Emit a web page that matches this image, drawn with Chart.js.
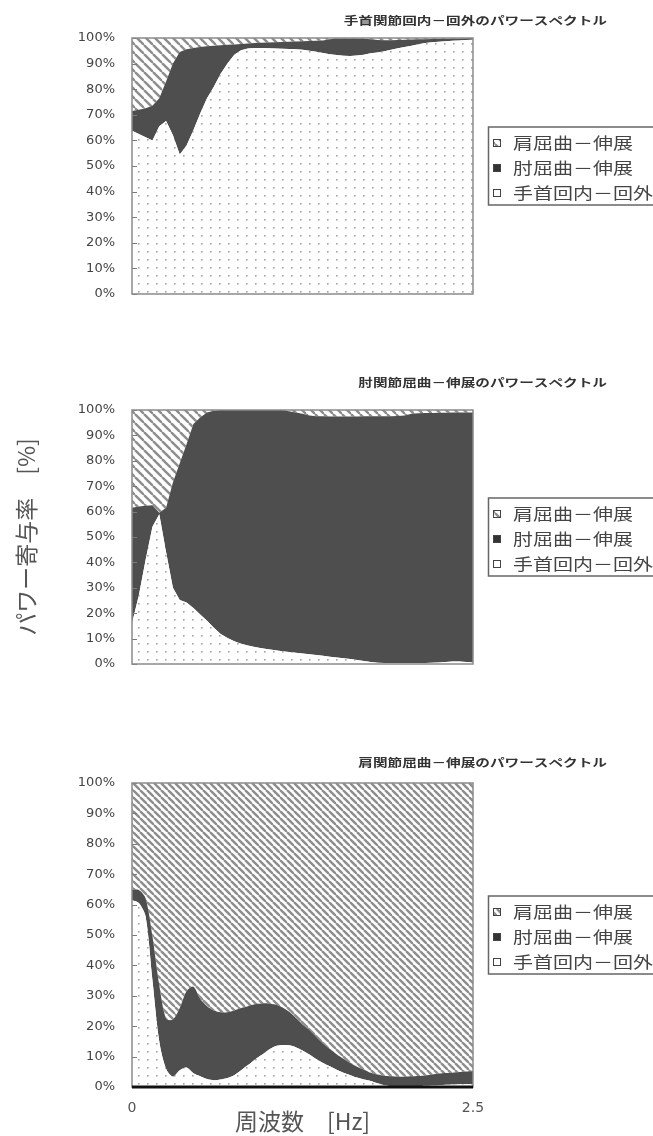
<!DOCTYPE html>
<html>
<head>
<meta charset="utf-8">
<script src="https://cdn.jsdelivr.net/npm/chart.js@4.4.1/dist/chart.umd.min.js"></script>
<style>
  html, body { margin: 0; padding: 0; background: #fff; }
  #wrap { position: relative; width: 653px; height: 1136px; overflow: hidden; }
  canvas { position: absolute; left: 0; }
</style>
</head>
<body>
<div id="wrap">
  <canvas id="c1" width="653" height="360" style="top:0px"></canvas>
  <canvas id="c2" width="653" height="360" style="top:360px"></canvas>
  <canvas id="c3" width="653" height="416" style="top:720px"></canvas>
</div>
<script>
// Frequency bins [Hz]
const freqHz = [0.00,0.05,0.10,0.15,0.20,0.25,0.30,0.35,0.40,0.45,
                0.50,0.55,0.60,0.65,0.70,0.75,0.80,0.85,0.90,0.95,
                1.00,1.05,1.10,1.15,1.20,1.25,1.30,1.35,1.40,1.45,
                1.50,1.55,1.60,1.65,1.70,1.75,1.80,1.85,1.90,1.95,
                2.00,2.05,2.10,2.15,2.20,2.25,2.30,2.35,2.40,2.45,
                2.50];

// Series names (legend order: top to bottom)
const seriesNames = ['肩屈曲－伸展', '肘屈曲－伸展', '手首回内－回外'];

const panelTitles = ['手首関節回内－回外のパワースペクトル',
                     '肘関節屈曲－伸展のパワースペクトル',
                     '肩関節屈曲－伸展のパワースペクトル'];

const yTickValues = [0,10,20,30,40,50,60,70,80,90,100];
const xTickLabels = ['0', '2.5'];

// Panel 1: wrist pronation-supination spectrum, contribution [%]
const wrist1 = [63.8,62.5,61.2,60.0,65.5,67.6,62.0,54.5,58.0,64.0,
                70.5,76.5,81.0,86.0,90.0,93.5,95.2,95.9,96.1,96.1,
                96.0,95.9,95.8,95.7,95.6,95.4,95.0,94.6,94.1,93.7,
                93.4,93.1,93.0,93.2,93.5,94.0,94.3,94.8,95.4,96.0,
                96.5,97.0,97.6,98.0,98.3,98.5,98.7,98.9,99.0,99.2,
                99.3];
const elbow1 = [7.7,9.5,11.4,13.5,11.0,15.4,28.0,40.0,37.6,32.1,
                26.0,20.3,16.0,11.2,7.4,4.0,2.5,2.0,1.9,2.0,
                2.2,2.4,2.6,2.8,3.0,3.3,3.8,4.3,4.9,5.8,
                6.4,6.7,6.8,6.6,6.2,5.5,4.9,4.3,3.7,3.2,
                2.8,2.4,1.9,1.5,1.3,1.2,1.0,0.9,0.8,0.7,
                0.7];
const shoulder1 = [28.5,28.0,27.4,26.5,23.5,17.0,10.0,5.5,4.4,3.9,
                   3.5,3.2,3.0,2.8,2.6,2.5,2.3,2.1,2.0,1.9,
                   1.8,1.7,1.6,1.5,1.4,1.3,1.2,1.1,1.0,0.5,
                   0.2,0.2,0.2,0.2,0.3,0.5,0.8,0.9,0.9,0.8,
                   0.7,0.6,0.5,0.5,0.4,0.3,0.3,0.2,0.2,0.1,
                   0.0];

// Panel 2: elbow flexion-extension spectrum
const wrist2 = [16.0,27.0,41.0,54.0,59.0,44.0,30.0,25.2,24.2,22.0,
                19.5,17.0,14.3,11.8,10.2,9.0,8.0,7.3,6.7,6.2,
                5.8,5.4,5.0,4.7,4.4,4.1,3.8,3.5,3.2,2.9,
                2.6,2.3,2.0,1.6,1.2,0.8,0.5,0.4,0.4,0.4,
                0.4,0.4,0.4,0.4,0.5,0.6,0.8,1.0,1.0,0.8,
                0.6];
const elbow2 = [45.5,35.0,21.3,8.5,0.5,17.5,41.5,53.8,62.3,72.5,
                77.5,82.0,85.4,88.2,89.8,91.0,92.0,92.7,93.3,93.8,
                94.2,94.6,95.0,94.8,94.6,94.4,94.0,94.0,94.3,94.5,
                94.8,95.1,95.4,95.8,96.3,96.7,97.0,97.1,97.1,97.2,
                97.4,98.1,98.3,98.4,98.3,98.3,98.1,98.0,98.0,98.2,
                98.4];
const shoulder2 = [38.5,38.0,37.7,37.5,40.5,38.5,28.5,21.0,13.5,5.5,
                   3.0,1.0,0.3,0.0,0.0,0.0,0.0,0.0,0.0,0.0,
                   0.0,0.0,0.0,0.5,1.0,1.5,2.2,2.5,2.5,2.6,
                   2.6,2.6,2.6,2.6,2.5,2.5,2.5,2.5,2.5,2.4,
                   2.2,1.5,1.3,1.2,1.2,1.1,1.1,1.0,1.0,1.0,
                   1.0];

// Panel 3: shoulder flexion-extension spectrum
const wrist3 = [61.5,60.5,56.0,35.0,15.0,6.0,3.4,5.5,6.4,4.5,
                3.5,2.6,2.2,2.5,3.0,3.9,5.5,7.2,9.0,10.5,
                12.2,13.4,13.8,13.7,13.1,12.0,10.7,9.2,7.9,6.8,
                5.7,4.7,3.9,3.1,2.5,2.0,1.2,0.6,0.3,0.3,
                0.3,0.3,0.3,0.4,0.5,0.6,0.7,0.8,0.9,1.0,
                1.0];
const elbow3 = [3.5,4.3,6.0,14.5,18.5,16.5,18.8,20.5,25.1,28.5,
                25.5,24.0,23.0,22.1,21.6,21.3,20.5,19.4,18.2,17.0,
                15.3,13.7,12.4,11.1,9.7,8.6,8.1,7.3,6.4,5.7,
                5.1,4.6,4.0,3.6,3.2,2.7,2.9,3.1,3.2,3.1,
                3.1,3.2,3.3,3.4,3.6,3.8,3.9,3.9,4.0,4.1,
                4.3];
const shoulder3 = [35.0,35.2,38.0,50.5,66.5,77.5,77.8,74.0,68.5,67.0,
                   71.0,73.4,74.8,75.4,75.4,74.8,74.0,73.4,72.8,72.5,
                   72.5,72.9,73.8,75.2,77.2,79.4,81.2,83.5,85.7,87.5,
                   89.2,90.7,92.1,93.3,94.3,95.3,95.9,96.3,96.5,96.6,
                   96.6,96.5,96.4,96.2,95.9,95.6,95.4,95.3,95.1,94.9,
                   94.7];

const CJK = '"Noto Sans CJK JP", "Noto Sans", sans-serif';
Chart.defaults.font.family = CJK;
const DARK = '#4e4e4e';

// Fill patterns
function hatchPattern(ctx, period, lw, color) {
  const c = document.createElement('canvas');
  c.width = period; c.height = period;
  const g = c.getContext('2d');
  g.fillStyle = '#fff'; g.fillRect(0, 0, period, period);
  g.strokeStyle = color; g.lineWidth = lw;
  for (const k of [-1, 0, 1]) {
    g.beginPath();
    g.moveTo(k * period, 0);
    g.lineTo(k * period + period, period);
    g.stroke();
  }
  return ctx.createPattern(c, 'repeat');
}
function dotPattern(ctx) {
  const c = document.createElement('canvas');
  c.width = 9; c.height = 8;
  const g = c.getContext('2d');
  g.fillStyle = '#fff'; g.fillRect(0, 0, 9, 8);
  g.fillStyle = '#a4a4a4';
  g.fillRect(3, 3, 1.6, 1.6);
  return ctx.createPattern(c, 'repeat');
}

function stretchedText(ctx, text, x, y, sx, align) {
  ctx.save();
  ctx.translate(x, y);
  ctx.scale(sx, 1);
  ctx.textAlign = align;
  ctx.fillText(text, 0, 0);
  ctx.restore();
}

// Frame, inside ticks, title and boxed legend for each panel
const panelDecor = {
  id: 'panelDecor',
  afterDatasetsDraw(chart, args, o) {
    const { ctx, chartArea: a } = chart;
    const ys = chart.scales.y;
    ctx.save();
    ctx.strokeStyle = '#7a7a7a';
    ctx.lineWidth = 1;
    ys.ticks.forEach(t => {
      const py = Math.round(ys.getPixelForValue(t.value)) + 0.5;
      ctx.beginPath(); ctx.moveTo(a.left, py); ctx.lineTo(a.left + 5, py); ctx.stroke();
    });
    ctx.strokeStyle = '#8a8a8a';
    ctx.lineWidth = 1.5;
    ctx.strokeRect(a.left, a.top, a.right - a.left, a.bottom - a.top);
    if (o.baseLine) {
      ctx.strokeStyle = '#111';
      ctx.lineWidth = 3;
      ctx.beginPath(); ctx.moveTo(a.left, a.bottom); ctx.lineTo(a.right, a.bottom); ctx.stroke();
    }
    ctx.restore();
  },
  afterDraw(chart, args, o) {
    const { ctx, chartArea: a } = chart;
    ctx.save();
    // title
    ctx.fillStyle = '#333';
    ctx.font = 'bold 11px ' + CJK;
    ctx.textBaseline = 'middle';
    stretchedText(ctx, o.title, 607, o.titleY, 1.33, 'right');
    // legend box
    const boxTop = (a.top + a.bottom) / 2 - 39;
    ctx.strokeStyle = '#666';
    ctx.lineWidth = 1.5;
    ctx.strokeRect(488.5, boxTop, 200, 78);
    const marks = [o.hatch, '#333', '#fff'];
    ctx.font = '16px ' + CJK;
    seriesNames.forEach((name, i) => {
      const ry = boxTop + 16 + i * 25;
      ctx.fillStyle = marks[i];
      ctx.fillRect(493, ry - 4, 8, 8);
      ctx.strokeStyle = '#444';
      ctx.lineWidth = 1;
      ctx.strokeRect(493.5, ry - 3.5, 7, 7);
      ctx.fillStyle = '#444';
      stretchedText(ctx, name, 513, ry, 1.25, 'left');
    });
    ctx.restore();
  }
};

function buildPanel(id, wrist, elbow, shoulder, cfg) {
  const canvas = document.getElementById(id);
  const ctx = canvas.getContext('2d');
  const hatch = hatchPattern(ctx, cfg.hatchPeriod, 2.4, '#8d8d8d');
  const dots = dotPattern(ctx);
  const toPts = arr => arr.map((v, i) => ({ x: freqHz[i], y: v }));
  const common = { pointRadius: 0, borderWidth: 0, tension: cfg.tension };
  return new Chart(ctx, {
    type: 'line',
    data: {
      datasets: [
        { label: seriesNames[2], data: toPts(wrist), backgroundColor: dots, fill: 'origin', ...common },
        { label: seriesNames[1], data: toPts(elbow), backgroundColor: DARK, fill: '-1', ...common },
        { label: seriesNames[0], data: toPts(shoulder), backgroundColor: hatch, fill: '-1', ...common }
      ]
    },
    options: {
      responsive: false,
      animation: false,
      events: [],
      layout: { padding: cfg.padding },
      plugins: {
        legend: { display: false },
        tooltip: { enabled: false },
        panelDecor: { title: cfg.title, titleY: cfg.titleY, hatch: hatch, baseLine: cfg.showX }
      },
      scales: {
        x: {
          type: 'linear', min: 0, max: 2.5,
          display: cfg.showX,
          grid: { display: false, drawTicks: false },
          border: { display: false },
          ticks: {
            stepSize: 2.5, padding: 13, color: '#555',
            font: { family: '"DejaVu Sans", sans-serif', size: 14 },
            callback: (v, i) => xTickLabels[i]
          },
          title: {
            display: cfg.showX, text: '周波数　[Hz]', color: '#555',
            font: { size: 23 }, padding: { top: 0, bottom: 1 }
          },
          afterFit: s => { s.height = 49; }
        },
        y: {
          stacked: true, min: 0, max: 100,
          grid: { display: false, drawTicks: false },
          border: { display: false },
          afterBuildTicks: s => { s.ticks = yTickValues.map(v => ({ value: v })); },
          ticks: {
            padding: 17, color: '#444',
            font: { family: '"DejaVu Sans", sans-serif', size: 13 },
            callback: v => v + '%'
          },
          title: {
            display: cfg.showYTitle, text: 'パワー寄与率　[%]', color: '#555',
            font: { size: 23 }, padding: { top: 12, bottom: 0 }
          },
          afterFit: s => { s.width = 132; }
        }
      }
    },
    plugins: [panelDecor]
  });
}

buildPanel('c1', wrist1, elbow1, shoulder1, {
  title: panelTitles[0], titleY: 21, hatchPeriod: 9, tension: 0,
  padding: { left: 0, right: 180, top: 38, bottom: 17 }, showX: false, showYTitle: false
});
buildPanel('c2', wrist2, elbow2, shoulder2, {
  title: panelTitles[1], titleY: 23, hatchPeriod: 9, tension: 0,
  padding: { left: 0, right: 180, top: 50, bottom: 7 }, showX: false, showYTitle: true
});
buildPanel('c3', wrist3, elbow3, shoulder3, {
  title: panelTitles[2], titleY: 43, hatchPeriod: 7, tension: 0.3,
  padding: { left: 0, right: 180, top: 63, bottom: 0 }, showX: true, showYTitle: false
});
</script>
</body>
</html>
